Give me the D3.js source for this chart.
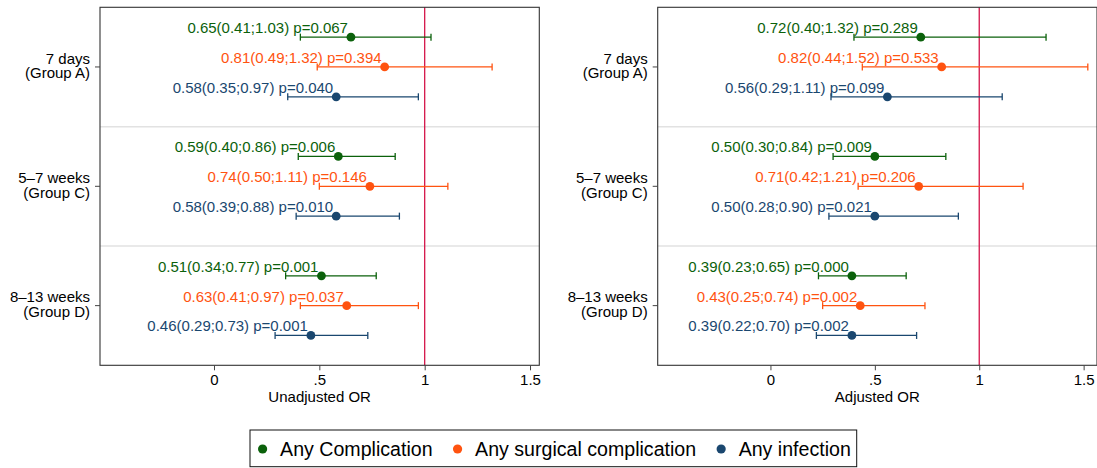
<!DOCTYPE html>
<html>
  <head>
    <meta charset="utf-8">
    <title>Odds ratios by group</title>
    <script src="https://cdnjs.cloudflare.com/ajax/libs/d3/7.8.5/d3.min.js"></script>
    <style>
      body { margin: 0; background: #fff; }
      text { font-family: "Liberation Sans", Arial, Helvetica, sans-serif; }
    </style>
  </head>
  <body>
    <div id="chart"></div>
    <script type="text/javascript">
      // groups (rows) and series (3 points per row)
      var groups = [["7 days", "(Group A)"], ["5\u20137 weeks", "(Group C)"], ["8\u201313 weeks", "(Group D)"]];
      var series = ["Any Complication", "Any surgical complication", "Any infection"];
      var colors = ["#0b610b", "#ff5310", "#1a476f"];
      var xTicks = [0, 0.5, 1, 1.5];

      // unadjusted: [group][series]
      var unadjOR = [[0.65, 0.81, 0.58], [0.59, 0.74, 0.58], [0.51, 0.63, 0.46]];
      var unadjLo = [[0.41, 0.49, 0.35], [0.40, 0.50, 0.39], [0.34, 0.41, 0.29]];
      var unadjHi = [[1.03, 1.32, 0.97], [0.86, 1.11, 0.88], [0.77, 0.97, 0.73]];
      var unadjP  = [[0.067, 0.394, 0.040], [0.006, 0.146, 0.010], [0.001, 0.037, 0.001]];

      // adjusted
      var adjOR = [[0.72, 0.82, 0.56], [0.50, 0.71, 0.50], [0.39, 0.43, 0.39]];
      var adjLo = [[0.40, 0.44, 0.29], [0.30, 0.42, 0.28], [0.23, 0.25, 0.22]];
      var adjHi = [[1.32, 1.52, 1.11], [0.84, 1.21, 0.90], [0.65, 0.74, 0.70]];
      var adjP  = [[0.289, 0.533, 0.099], [0.009, 0.206, 0.021], [0.000, 0.002, 0.002]];

      var w = 1097, h = 468;
      var svg = d3.select("#chart").append("svg")
        .attr("width", w)
        .attr("height", h);

      var yTop = 7.3, yBottom = 365.3;
      var fs = "15px";
      var f2 = d3.format(".2f"), f3 = d3.format(".3f");

      function drawPanel(left, right, domain, title, OR, lo, hi, P) {
        var x = d3.scaleLinear().domain(domain).range([left, right]);
        // group band + offset within group
        var y = d3.scaleLinear().domain([0, 3]).range([yTop, yBottom]);
        var g = svg.append("g");

        // separators
        g.selectAll("line.sep")
          .data([1, 2])
          .enter().append("line")
          .attr("x1", left).attr("x2", right)
          .attr("y1", function(d) { return y(d); })
          .attr("y2", function(d) { return y(d); })
          .attr("stroke", "#e2e2e2")
          .attr("stroke-width", 1.5);

        // reference line at 1
        g.append("line")
          .attr("x1", x(1)).attr("x2", x(1))
          .attr("y1", yTop).attr("y2", yBottom)
          .attr("stroke", "#d4154a")
          .attr("stroke-width", 1.3);

        // box
        g.append("rect")
          .attr("x", left).attr("y", yTop)
          .attr("width", right - left).attr("height", yBottom - yTop)
          .attr("fill", "none")
          .attr("stroke", "#333")
          .attr("stroke-width", 1.1);

        // x axis
        var xAxis = d3.axisBottom(x)
          .tickValues(xTicks)
          .tickSize(5)
          .tickFormat(function(d) { return d === 0 ? "0" : d3.format("")(d).replace(/^0\./, "."); });
        var ax = g.append("g")
          .attr("transform", "translate(0," + yBottom + ")")
          .call(xAxis);
        ax.select(".domain").remove();
        ax.selectAll(".tick line").attr("stroke", "#444");
        ax.selectAll(".tick text")
          .attr("y", 9)
          .attr("fill", "#000")
          .style("font-size", fs)
          .style("font-family", "'Liberation Sans', Arial, sans-serif");

        g.append("text")
          .attr("x", (left + right) / 2)
          .attr("y", 402)
          .attr("text-anchor", "middle")
          .style("font-size", fs)
          .text(title);

        // y labels
        groups.forEach(function(lab, i) {
          var yc = y(i + 0.5);
          g.append("line")
            .attr("x1", left - 5).attr("x2", left)
            .attr("y1", yc).attr("y2", yc)
            .attr("stroke", "#444");
          var t = g.append("text")
            .attr("text-anchor", "end")
            .style("font-size", fs);
          t.append("tspan").attr("x", left - 10).attr("y", yc - 3.2).text(lab[0]);
          t.append("tspan").attr("x", left - 10).attr("y", yc + 11.4).text(lab[1]);
        });

        // points
        var pts = [];
        OR.forEach(function(row, i) {
          row.forEach(function(v, s) {
            pts.push({ g: i, s: s, or: v, lo: lo[i][s], hi: hi[i][s], p: P[i][s] });
          });
        });
        var off = [-0.25, 0, 0.25];
        function py(d) { return y(d.g + 0.5 + off[d.s]); }

        var pg = g.selectAll("g.pt")
          .data(pts)
          .enter().append("g");

        pg.append("line")
          .attr("x1", function(d) { return x(d.lo); })
          .attr("x2", function(d) { return x(d.hi); })
          .attr("y1", py).attr("y2", py)
          .attr("stroke", function(d) { return colors[d.s]; })
          .attr("stroke-width", 1.3);
        ["lo", "hi"].forEach(function(k) {
          pg.append("line")
            .attr("x1", function(d) { return x(d[k]); })
            .attr("x2", function(d) { return x(d[k]); })
            .attr("y1", function(d) { return py(d) - 3.5; })
            .attr("y2", function(d) { return py(d) + 3.5; })
            .attr("stroke", function(d) { return colors[d.s]; })
            .attr("stroke-width", 1.3);
        });
        pg.append("circle")
          .attr("cx", function(d) { return x(d.or); })
          .attr("cy", py)
          .attr("r", 4.4)
          .attr("fill", function(d) { return colors[d.s]; });
        pg.append("text")
          .attr("x", function(d) { return x(d.or) - 3; })
          .attr("y", function(d) { return py(d) - 4; })
          .attr("text-anchor", "end")
          .attr("fill", function(d) { return colors[d.s]; })
          .style("font-size", fs)
          .text(function(d) {
            return f2(d.or) + "(" + f2(d.lo) + ";" + f2(d.hi) + ") p=" + f3(d.p);
          });
      }

      drawPanel(100, 539.3, [-0.541, 1.544], "Unadjusted OR", unadjOR, unadjLo, unadjHi, unadjP);
      drawPanel(657.7, 1097, [-0.54, 1.564], "Adjusted OR", adjOR, adjLo, adjHi, adjP);

      // legend
      var leg = svg.append("g");
      leg.append("rect")
        .attr("x", 250).attr("y", 430)
        .attr("width", 606.7).attr("height", 36.7)
        .attr("fill", "#fff")
        .attr("stroke", "#111")
        .attr("stroke-width", 1);
      var lx = 262.6;
      series.forEach(function(name, i) {
        leg.append("circle")
          .attr("cx", lx).attr("cy", 449)
          .attr("r", 4.6)
          .attr("fill", colors[i]);
        var t = leg.append("text")
          .attr("x", lx + 17.5).attr("y", 456)
          .style("font-size", "19.6px")
          .text(name);
        lx = lx + 17.5 + t.node().getComputedTextLength() + 25;
      });
    </script>
  </body>
</html>
